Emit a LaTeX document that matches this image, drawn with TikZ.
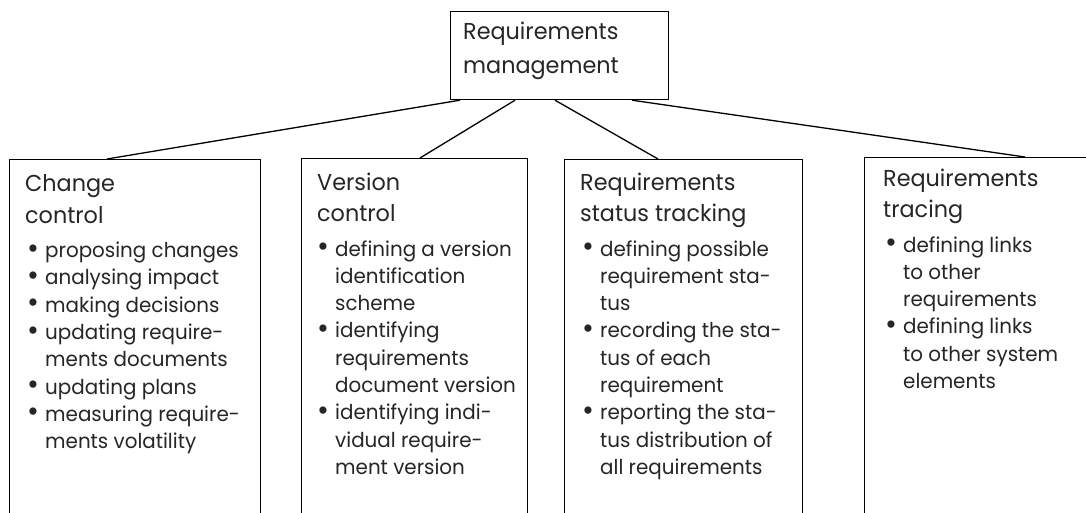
\documentclass[tikz,border=0pt]{standalone}
\usepackage{fontspec}
\setmainfont{Poppins}[FakeStretch=0.97]
\usetikzlibrary{calc}
\newcommand\headfont{\fontsize{23}{31.5}\selectfont}
\newcommand\bodyfont{\fontsize{20.5}{27.3}\selectfont}
\newcommand\bul{\raisebox{-0.6pt}{\scalebox{1.45}{\textbullet}}}
\begin{document}
\begin{tikzpicture}[x=1pt,y=-1pt,
  frame/.style={draw, line width=1.2pt, inner sep=0pt, anchor=north west},
  txt/.style={inner sep=0pt, anchor=base west, text=black!85},
  link/.style={draw, line width=1.3pt}]
\useasboundingbox (0,0) rectangle (1086,513);
\clip (0,0) rectangle (1086,513);
\fill[white] (0,0) rectangle (1086,513);

% root box
\node[frame, minimum width=218pt, minimum height=88pt] (root) at (450,11) {};
\node[txt] (rootlabel) at (463,40) {\headfont\begin{tabular}[t]{@{}l@{}}Requirements\\[2.5pt]management\end{tabular}};

% four activity boxes, open at the bottom
\node[frame, minimum width=251pt, minimum height=380pt] (cc) at (9,159) {};
\node[frame, minimum width=226pt, minimum height=380pt] (vc) at (301,158) {};
\node[frame, minimum width=238pt, minimum height=380pt] (st) at (564,159) {};
\node[frame, minimum width=260pt, minimum height=380pt] (rt) at (864,157) {};

% connectors from the root box
\coordinate (r1) at ($(root.south west)+(10,0)$);
\coordinate (r2) at ($(root.south west)+(65,0)$);
\coordinate (r3) at ($(root.south west)+(105,0)$);
\coordinate (r4) at ($(root.south west)+(182,0)$);
\draw[link] (r1) -- ($(cc.north west)+(98,0)$);
\draw[link] (r2) -- ($(vc.north west)+(119,0)$);
\draw[link] (r3) -- ($(st.north west)+(94,0)$);
\draw[link] (r4) -- ($(rt.north west)+(161,0)$);

% Change control
\node[txt] (cch) at (25,191.7) {\headfont\begin{tabular}[t]{@{}l@{}}Change\\control\end{tabular}};
\node[txt] (ccb) at (27,257.5) {\bodyfont\begin{tabular}[t]{@{}p{18pt}@{}l@{}}
\bul & proposing changes\\
\bul & analysing impact\\
\bul & making decisions\\
\bul & updating require-\\
     & ments documents\\
\bul & updating plans\\
\bul & measuring require-\\
     & ments volatility
\end{tabular}};

% Version control
\node[txt] (vch) at (317,190.5) {\headfont\begin{tabular}[t]{@{}l@{}}Version\\control\end{tabular}};
\node[txt] (vcb) at (317,256) {\bodyfont\begin{tabular}[t]{@{}p{18pt}@{}l@{}}
\bul & defining a version\\
     & identification\\
     & scheme\\
\bul & identifying\\
     & requirements\\
     & document version\\
\bul & identifying indi-\\
     & vidual require-\\
     & ment version
\end{tabular}};

% Requirements status tracking
\node[txt] (sth) at (580,190.5) {\headfont\begin{tabular}[t]{@{}l@{}}Requirements\\status tracking\end{tabular}};
\node[txt] (stb) at (582,256) {\bodyfont\begin{tabular}[t]{@{}p{18pt}@{}l@{}}
\bul & defining possible\\
     & requirement sta-\\
     & tus\\
\bul & recording the sta-\\
     & tus of each\\
     & requirement\\
\bul & reporting the sta-\\
     & tus distribution of\\
     & all requirements
\end{tabular}};

% Requirements tracing
\node[txt] (rth) at (883,186) {\headfont\begin{tabular}[t]{@{}l@{}}Requirements\\tracing\end{tabular}};
\node[txt] (rtb) at (885,252) {\bodyfont\begin{tabular}[t]{@{}p{18pt}@{}l@{}}
\bul & defining links\\
     & to other\\
     & requirements\\
\bul & defining links\\
     & to other system\\
     & elements
\end{tabular}};
\end{tikzpicture}
\end{document}
